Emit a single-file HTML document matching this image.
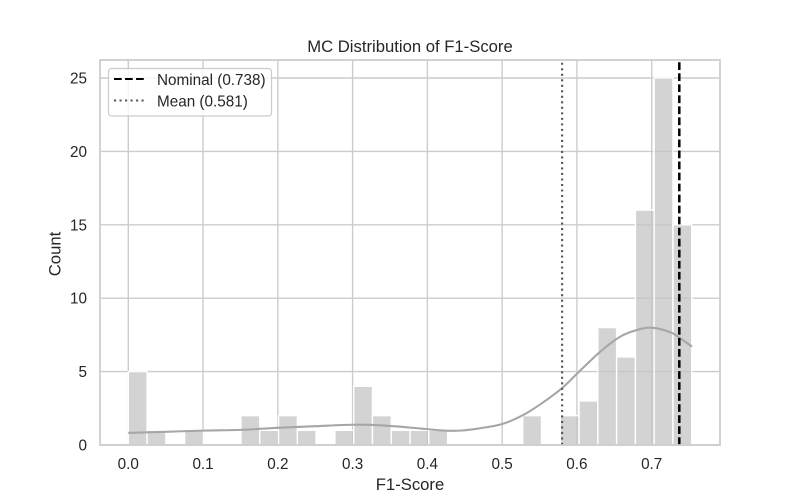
<!DOCTYPE html>
<html>
<head>
<meta charset="utf-8">
<style>
html,body{margin:0;padding:0;background:#fff;}
svg{display:block;}
text{font-family:"Liberation Sans",Arial,sans-serif;fill:#262626;}
</style>
</head>
<body>
<svg id="chart" width="800" height="500" viewBox="0 0 800 500" xmlns="http://www.w3.org/2000/svg">
  <rect x="0" y="0" width="800" height="500" fill="#ffffff"/>
  <g id="grid"></g>
  <g id="bars"></g>
  <path id="kde" fill="none" stroke="#a6a6a6" stroke-width="2.08"/>
  <line id="meanLine" stroke="#555555" stroke-width="2.08" stroke-dasharray="2.08 3.43" y1="445" y2="60"/>
  <line id="nominalLine" stroke="#000000" stroke-width="2.5" stroke-dasharray="7.7 3.33" y1="445" y2="60"/>
  <rect x="100" y="60" width="620" height="385" fill="none" stroke="#cccccc" stroke-width="1.74"/>
  <g id="ticks"></g>
  <text x="410" y="52" text-anchor="middle" font-size="16.67">MC Distribution of F1-Score</text>
  <text x="410" y="490" text-anchor="middle" font-size="16.67">F1-Score</text>
  <text transform="translate(60.5 254) rotate(-90)" text-anchor="middle" font-size="16.67">Count</text>
  <g>
    <rect x="108.5" y="68.5" width="163" height="47.5" rx="3" ry="3" fill="#ffffff" fill-opacity="0.8" stroke="#cccccc" stroke-width="1.2"/>
    <line x1="114" x2="144" y1="79" y2="79" stroke="#000000" stroke-width="2.08" stroke-dasharray="7.7 3.33"/>
    <text id="legendNominal" x="157" y="85" font-size="15.28"></text>
    <line x1="114" x2="144" y1="100.5" y2="100.5" stroke="#555555" stroke-width="2.08" stroke-dasharray="2.08 3.43"/>
    <text id="legendMean" x="157" y="106.3" font-size="15.28"></text>
  </g>
</svg>
<script>
const binCounts = [5,1,0,1,0,0,2,1,2,1,0,1,4,2,1,1,1,0,0,0,0,2,0,2,3,8,6,16,25,15];
const binStart = 0;
const binWidth = 0.02512;
const xTickValues = [0,0.1,0.2,0.3,0.4,0.5,0.6,0.7];
const xTickLabels = ["0.0","0.1","0.2","0.3","0.4","0.5","0.6","0.7"];
const yTickValues = [0,5,10,15,20,25];
const yTickLabels = ["0","5","10","15","20","25"];
const kdeX = [0,0.05,0.1,0.15,0.2,0.25,0.3,0.34,0.39,0.417,0.439,0.461,0.499,0.528,0.553,0.58,0.6,0.631,0.658,0.68,0.7,0.725,0.738,0.754];
const kdeY = [0.82,0.9,0.98,1.03,1.17,1.28,1.38,1.33,1.13,1.0,0.97,1.07,1.41,2.04,2.84,3.87,4.85,6.35,7.38,7.83,7.99,7.68,7.27,6.7];
const nominalValue = 0.738;
const meanValue = 0.581;

const NS = 'http://www.w3.org/2000/svg';
const xScale = v => 128.3 + v * 747.7;
const yScale = v => 445 - v * 14.68;

function make(tag, attrs, parent) {
  const el = document.createElementNS(NS, tag);
  for (const k in attrs) el.setAttribute(k, attrs[k]);
  parent.appendChild(el);
  return el;
}

const gridG = document.getElementById('grid');
xTickValues.forEach(v => {
  const l = make('line', {x1: xScale(v), x2: xScale(v), y1: 60, y2: 445, stroke: '#cccccc', 'stroke-width': 1.39}, gridG);
  
  
});
yTickValues.forEach(v => {
  const l = make('line', {x1: 100, x2: 720, y1: yScale(v), y2: yScale(v), stroke: '#cccccc', 'stroke-width': 1.39}, gridG);
  
  
});

const barsG = document.getElementById('bars');
binCounts.forEach((c, i) => {
  if (c <= 0) return;
  const x0 = xScale(binStart + i * binWidth);
  const x1 = xScale(binStart + (i + 1) * binWidth);
  const r = make('rect', {x: x0, y: yScale(c), width: x1 - x0, height: yScale(0) - yScale(c), fill: 'rgb(196,196,196)', 'fill-opacity': 0.75, stroke: '#ffffff', 'stroke-width': 1.39}, barsG);
  
  
});

let d = '';
const pts = kdeX.map((v, i) => [xScale(v), yScale(kdeY[i])]);
pts.forEach((p, i) => {
  if (i === 0) { d += 'M' + p[0] + ' ' + p[1]; return; }
  const p0 = pts[Math.max(0, i - 2)], p1 = pts[i - 1], p3 = pts[Math.min(pts.length - 1, i + 1)];
  const c1x = p1[0] + (p[0] - p0[0]) / 6, c1y = p1[1] + (p[1] - p0[1]) / 6;
  const c2x = p[0] - (p3[0] - p1[0]) / 6, c2y = p[1] - (p3[1] - p1[1]) / 6;
  d += 'C' + c1x + ' ' + c1y + ' ' + c2x + ' ' + c2y + ' ' + p[0] + ' ' + p[1];
});
document.getElementById('kde').setAttribute('d', d);

const meanLine = document.getElementById('meanLine');
meanLine.setAttribute('x1', xScale(meanValue) - 0.6);
meanLine.setAttribute('x2', xScale(meanValue) - 0.6);
const nominalLine = document.getElementById('nominalLine');
nominalLine.setAttribute('x1', xScale(nominalValue) - 0.8);
nominalLine.setAttribute('x2', xScale(nominalValue) - 0.8);
document.getElementById('legendNominal').textContent = 'Nominal (' + nominalValue.toFixed(3) + ')';
document.getElementById('legendMean').textContent = 'Mean (' + meanValue.toFixed(3) + ')';

const ticksG = document.getElementById('ticks');
xTickValues.forEach((v, i) => {
  const t = make('text', {x: xScale(v), y: 469, 'text-anchor': 'middle', 'font-size': 15.28}, ticksG);
  
  
  t.textContent = xTickLabels[i];
});
yTickValues.forEach((v, i) => {
  const t = make('text', {x: 87, y: yScale(v) + 5.5, 'text-anchor': 'end', 'font-size': 15.28}, ticksG);
  
  
  t.textContent = yTickLabels[i];
});
</script>
</body>
</html>
